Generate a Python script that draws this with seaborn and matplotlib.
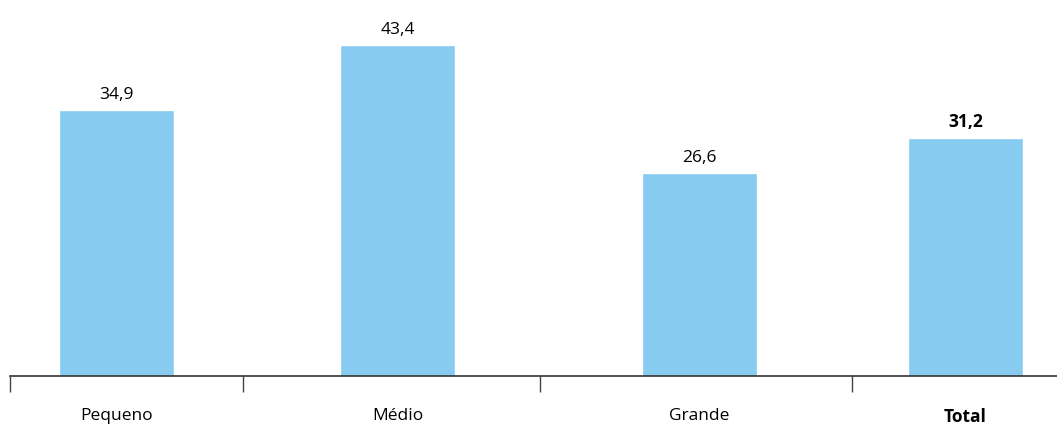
import numpy as np
import pandas as pd
import matplotlib.pyplot as plt
import seaborn as sns

# DATA
categories = ['Pequeno', 'Médio', 'Grande', 'Total']
values = [34.9, 43.4, 26.6, 31.2]

# Layout (horizontal positions of groups, in axis units)
x_pos = [116.5, 397.5, 699.0, 965.5]
boundaries = [10, 243, 540, 852]

df = pd.DataFrame({'pos': x_pos, 'value': values, 'cat': categories})

sns.set_style('white')
plt.rcParams['font.family'] = ['Open Sans', 'DejaVu Sans']

fig = plt.figure(figsize=(10.57, 4.24), dpi=100)
ax = fig.add_axes([10 / 1057, 48 / 424, 1 - 10 / 1057, 376 / 424])

bar_w = 115 / min(np.diff(x_pos))
sns.barplot(data=df, x='pos', y='value', native_scale=True, color='#87CCF0',
            saturation=1, width=bar_w, ax=ax)

ax.set_xlim(10, 1057)
ax.set_ylim(0, 49.3)

# Value labels, comma decimals, Total in bold
labels = [f'{v:.1f}'.replace('.', ',') for v in values]
texts = ax.bar_label(ax.containers[0], labels=labels, padding=5, fontsize=12.5, color='#000000')
texts[-1].set_fontweight('bold')

# Spines
for s in ['top', 'right', 'left']:
    ax.spines[s].set_visible(False)
ax.spines['bottom'].set_color('#333333')
ax.spines['bottom'].set_linewidth(1.2)

ax.set_yticks([])
ax.set_ylabel('')
ax.set_xlabel('')

# Separator ticks at group boundaries, labels at group centres
ax.set_xticks(boundaries)
ax.set_xticklabels([''] * len(boundaries))
ax.tick_params(axis='x', which='major', direction='out', length=11.5, width=1.0,
               color='#444444', bottom=True)
ax.set_xticks(x_pos, minor=True)
ax.set_xticklabels(categories, minor=True)
ax.tick_params(axis='x', which='minor', length=0, pad=23, labelsize=12.5, labelcolor='#000000')
ax.get_xticklabels(minor=True)[-1].set_fontweight('bold')

fig.savefig('out.png', dpi=100)
